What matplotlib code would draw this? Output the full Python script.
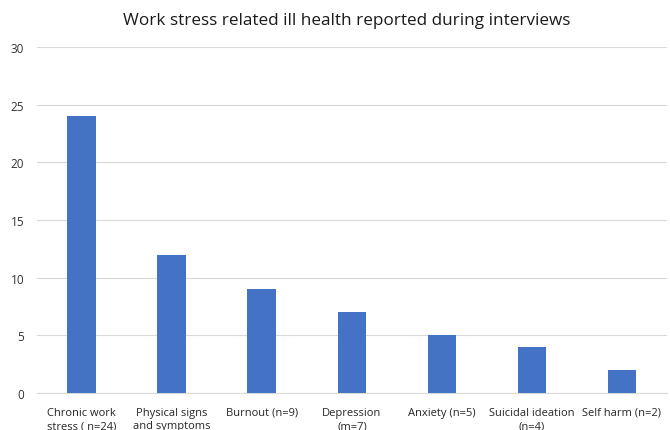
import matplotlib
matplotlib.use("Agg")
import matplotlib.pyplot as plt

# data
categories = ["Chronic work\nstress ( n=24)", "Physical signs\nand symptoms", "Burnout (n=9)",
              "Depression\n(m=7)", "Anxiety (n=5)", "Suicidal ideation\n(n=4)", "Self harm (n=2)"]
values = [24, 12, 9, 7, 5, 4, 2]
yticks = [0, 5, 10, 15, 20, 25, 30]

plt.rcParams['font.family'] = ['Open Sans', 'DejaVu Sans']

fig = plt.figure(figsize=(6.7, 4.31), dpi=100)
ax = fig.add_axes([0.055, 0.0858, 0.9405, 0.8028])

x = list(range(len(categories)))
ax.bar(x, values, width=0.32, color="#4472C4", zorder=3)

ax.set_xlim(-0.5, len(categories) - 0.5)
ax.set_ylim(0, 30)
ax.set_yticks(yticks)
ax.set_xticks(x)
ax.set_xticklabels(categories, fontsize=8, color="#262626", va="top", linespacing=1.3)
ax.tick_params(axis="y", labelsize=8.5, colors="#333333", length=0, pad=9)
ax.tick_params(axis="x", length=0, pad=10)
ax.yaxis.grid(True, color="#d9d9d9", linewidth=0.8, zorder=0)
for s in ["top", "right", "left"]:
    ax.spines[s].set_visible(False)
ax.spines["bottom"].set_color("#d9d9d9")

fig.suptitle("Work stress related ill health reported during interviews", fontsize=12.3,
             y=0.97, x=0.517, color="#1a1a1a")

plt.savefig("out.png", dpi=100)
